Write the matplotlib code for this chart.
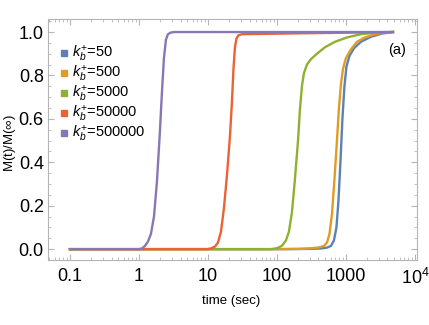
import numpy as np
import matplotlib.pyplot as plt
from matplotlib.lines import Line2D
from matplotlib.ticker import FixedLocator, MultipleLocator, LogLocator, NullFormatter

plt.rcParams['font.family'] = ['Liberation Sans', 'DejaVu Sans']
plt.rcParams['mathtext.fontset'] = 'custom'
plt.rcParams['mathtext.rm'] = 'Liberation Sans'
plt.rcParams['mathtext.it'] = 'Liberation Sans:italic'

# curves: (time in sec, M(t)/M(inf))
t_50 = [0.1, 100, 291, 434, 531, 607, 670, 728, 778, 832, 889, 951, 1016, 1124, 1306, 1648, 2301, 3327, 4800]
m_50 = [0.0, 0.0, 0.001, 0.003, 0.007, 0.015, 0.04, 0.10, 0.22, 0.40, 0.60, 0.75, 0.84, 0.89, 0.925, 0.955, 0.978, 0.993, 1.0]

t_500 = [0.1, 100, 208, 311, 406, 480, 531, 577, 627, 681, 741, 792, 847, 906, 1000, 1181, 1443, 1884, 2630, 3673, 4800]
m_500 = [0.0, 0.0, 0.001, 0.004, 0.008, 0.015, 0.03, 0.07, 0.16, 0.32, 0.50, 0.65, 0.76, 0.83, 0.88, 0.92, 0.955, 0.975, 0.99, 0.998, 1.0]

t_5000 = [0.1, 10, 81.8, 100, 118, 135, 149, 165, 182, 202, 215, 230, 246, 272, 311, 380, 497, 693, 1033, 1648, 2812, 4800]
m_5000 = [0.0, 0.0, 0.0, 0.004, 0.015, 0.04, 0.08, 0.17, 0.32, 0.50, 0.64, 0.75, 0.81, 0.85, 0.875, 0.90, 0.93, 0.955, 0.975, 0.99, 0.998, 1.0]

t_50000 = [0.1, 1, 9.67, 11.06, 12.63, 13.96, 15.43, 17.06, 18.85, 20.83, 22.28, 23.42, 24.62, 25.88, 27.67, 31.1, 208, 4800]
m_50000 = [0.0, 0.0, 0.0, 0.003, 0.012, 0.03, 0.08, 0.19, 0.34, 0.52, 0.68, 0.83, 0.93, 0.97, 0.985, 0.99, 0.994, 1.0]

t_500000 = [0.1, 0.5, 1.0, 1.105, 1.222, 1.35, 1.49, 1.65, 1.82, 2.01, 2.15, 2.30, 2.46, 2.63, 2.91, 3.33, 10, 4800]
m_500000 = [0.0, 0.0, 0.0, 0.003, 0.015, 0.035, 0.07, 0.15, 0.31, 0.54, 0.72, 0.88, 0.965, 0.99, 0.998, 1.0, 1.0, 1.0]

labels = ['50', '500', '5000', '50000', '500000']
colors = ['#5E81B5', '#E19C24', '#8FB032', '#EB6235', '#8778B3']
series = [(t_50, m_50), (t_500, m_500), (t_5000, m_5000), (t_50000, m_50000), (t_500000, m_500000)]

fig = plt.figure(figsize=(4.29, 3.25), dpi=100)
ax = fig.add_axes([48/429, 1 - 260/325, (417-48)/429, (260-19)/325])

for (t, m), c in zip(series, colors):
    ax.plot(t, m, color=c, lw=1.7, solid_joinstyle='round')

ax.set_xscale('log')
ax.set_xlim(0.048, 10**4.03)
ax.set_ylim(-0.05, 1.06)

xt = [0.1, 1, 10, 100, 1000, 10000]
xtl = ['0.1', '1', '10', '100', '1000', r'10$^{4}$']
ax.xaxis.set_major_locator(FixedLocator(xt))
ax.set_xticklabels(xtl)
ax.xaxis.set_minor_locator(LogLocator(base=10, subs=np.arange(2, 10)))
ax.xaxis.set_minor_formatter(NullFormatter())
ax.set_yticks([0.0, 0.2, 0.4, 0.6, 0.8, 1.0])
ax.set_yticklabels(['0.0', '0.2', '0.4', '0.6', '0.8', '1.0'])
ax.yaxis.set_minor_locator(MultipleLocator(0.05))

for s in ax.spines.values():
    s.set_color('#b5b5b5')
ax.tick_params(which='both', direction='in', top=True, right=True, color='#b5b5b5')
ax.tick_params(which='major', length=4, labelsize=13)
ax.tick_params(axis='x', which='major', pad=6)
ax.tick_params(axis='y', which='major', pad=3)
ax.tick_params(which='minor', length=2)

ax.set_xlabel('time (sec)', fontsize=9.5)
ax.xaxis.set_label_coords(0.496, -0.17)
ax.xaxis.label.set_va('center')
ax.set_ylabel(r'M(t)/M($\infty$)', fontsize=9.5)
ax.yaxis.set_label_coords(-0.103, 0.485)
ax.yaxis.label.set_va('center')
ax.text(0.946, 0.871, '(a)', transform=ax.transAxes, fontsize=10.5, ha='center', va='center')

handles = [Line2D([], [], ls='', marker='s', markersize=4, color=c) for c in colors]
ax.legend(handles, [r'$k_b^{+}$=' + lab for lab in labels], loc='upper left',
          bbox_to_anchor=(0.035, 0.895), frameon=False, fontsize=10.5,
          handlelength=0.45, handletextpad=0.3, labelspacing=0.0, borderaxespad=0.0,
          borderpad=0.0)

fig.savefig('out.png', dpi=100)
